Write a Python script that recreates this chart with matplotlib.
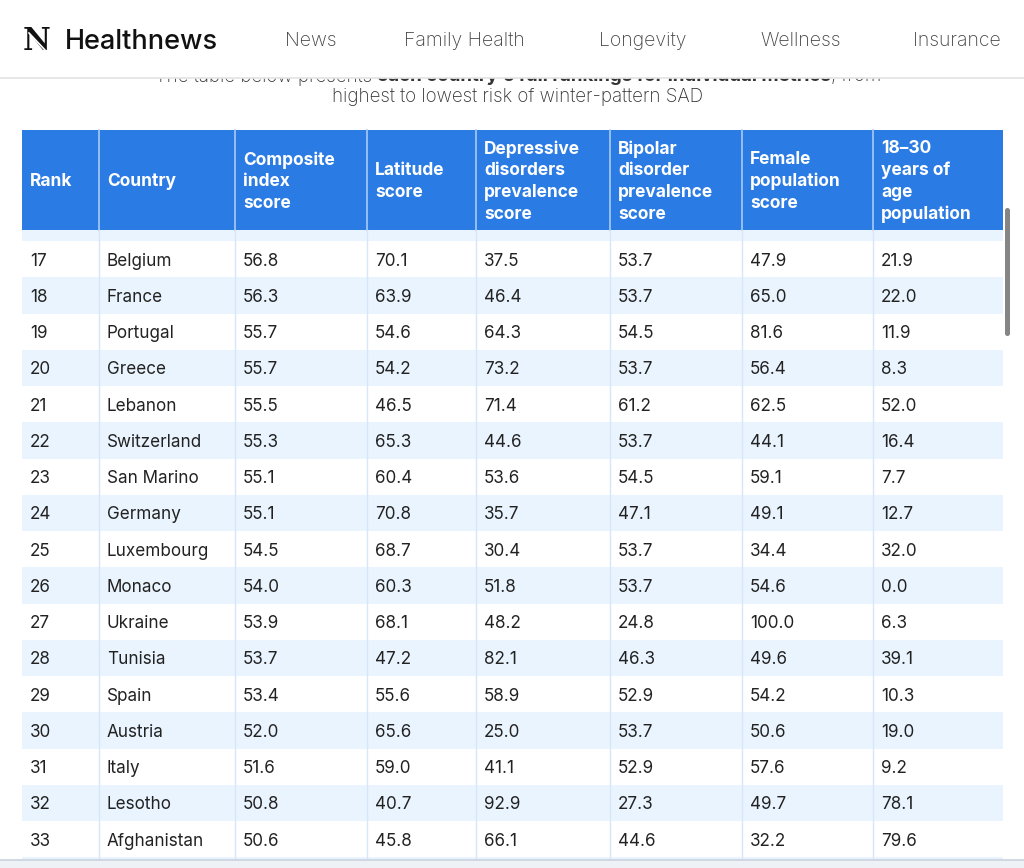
import matplotlib
matplotlib.use("Agg")
import matplotlib.pyplot as plt
from matplotlib.patches import Rectangle, FancyBboxPatch

# ---------------- data ----------------
headers = ["Rank", "Country", "Composite\nindex\nscore", "Latitude\nscore",
           "Depressive\ndisorders\nprevalence\nscore", "Bipolar\ndisorder\nprevalence\nscore",
           "Female\npopulation\nscore", "18\u201330\nyears of\nage\npopulation"]
ranks = [17, 18, 19, 20, 21, 22, 23, 24, 25, 26, 27, 28, 29, 30, 31, 32, 33]
countries = ["Belgium", "France", "Portugal", "Greece", "Lebanon", "Switzerland", "San Marino",
             "Germany", "Luxembourg", "Monaco", "Ukraine", "Tunisia", "Spain", "Austria",
             "Italy", "Lesotho", "Afghanistan"]
composite = [56.8, 56.3, 55.7, 55.7, 55.5, 55.3, 55.1, 55.1, 54.5, 54.0, 53.9, 53.7, 53.4, 52.0, 51.6, 50.8, 50.6]
latitude = [70.1, 63.9, 54.6, 54.2, 46.5, 65.3, 60.4, 70.8, 68.7, 60.3, 68.1, 47.2, 55.6, 65.6, 59.0, 40.7, 45.8]
depressive = [37.5, 46.4, 64.3, 73.2, 71.4, 44.6, 53.6, 35.7, 30.4, 51.8, 48.2, 82.1, 58.9, 25.0, 41.1, 92.9, 66.1]
bipolar = [53.7, 53.7, 54.5, 53.7, 61.2, 53.7, 54.5, 47.1, 53.7, 53.7, 24.8, 46.3, 52.9, 53.7, 52.9, 27.3, 44.6]
female = [47.9, 65.0, 81.6, 56.4, 62.5, 44.1, 59.1, 49.1, 34.4, 54.6, 100.0, 49.6, 54.2, 50.6, 57.6, 49.7, 32.2]
age_18_30 = [21.9, 22.0, 11.9, 8.3, 52.0, 16.4, 7.7, 12.7, 32.0, 0.0, 6.3, 39.1, 10.3, 19.0, 9.2, 78.1, 79.6]
nav_items = ["News", "Family Health", "Longevity", "Wellness", "Insurance"]
intro_parts = [("The table below presents ", "light"),
               ("each country\u2019s full rankings for individual metrics", "bold"),
               (", from", "light")]
intro_line2 = "highest to lowest risk of winter-pattern SAD"

# ---------------- layout ----------------
W, H = 1024, 868
fig = plt.figure(figsize=(W / 100, H / 100), dpi=100)
ax = fig.add_axes([0, 0, 1, 1])
ax.set_xlim(0, W)
ax.set_ylim(H, 0)
ax.axis("off")

FONT = ["Inter", "DejaVu Sans"]
BLUE = "#2B7BE4"
LIGHT = "#EAF4FE"
GRIDC = "#D6E7FA"
TXT = "#222222"

col_edges = [22, 99, 235, 367, 476, 610, 742, 873, 1003]
head_top, head_bot = 130, 230
strip_bot = 241
row_h = 36.25
clip_bottom = 860

# subtitle lines (first one partly hidden under header bar), pieces laid end to end
renderer = fig.canvas.get_renderer()
inv = ax.transData.inverted()
pieces = []
for t, wgt in intro_parts:
    pieces.append(ax.text(0, 76.5, t, ha="left", va="center", fontsize=13.5, family=FONT,
                          color="#333333", fontweight=wgt, zorder=1))
widths = []
for p in pieces:
    bb = p.get_window_extent(renderer=renderer)
    x0 = inv.transform((bb.x0, 0))[0]
    x1 = inv.transform((bb.x1, 0))[0]
    widths.append(x1 - x0)
total = sum(widths)
x = 518 - total / 2
for p, w in zip(pieces, widths):
    p.set_x(x)
    x += w
ax.text(518, 97, intro_line2, ha="center", va="center", fontsize=13.5, family=FONT,
        color="#333333", fontweight="light", zorder=1)

# header bar (white) with bottom border
ax.add_patch(Rectangle((0, 0), W, 78, facecolor="white", edgecolor="none", zorder=5))
ax.plot([0, W], [78, 78], color="#E3E3E3", lw=1.2, zorder=6)

# logo
ax.text(37, 41, "N", ha="center", va="center", fontsize=22, family="DejaVu Serif",
        fontweight="bold", color="#111111", zorder=7)
ax.plot([29, 45], [33, 50], color="white", lw=1.2, zorder=8)
ax.text(65, 42, "Healthnews", ha="left", va="center", fontsize=19.5, family=FONT,
        fontweight="medium", color="#111111", zorder=7)
nav_x = [285, 404, 599, 760, 913]
for xn, t in zip(nav_x, nav_items):
    ax.text(xn, 41.5, t, ha="left", va="center", fontsize=14, family=FONT,
            fontweight="light", color="#444444", zorder=7)

# table header
ax.add_patch(Rectangle((col_edges[0], head_top), col_edges[-1] - col_edges[0], head_bot - head_top,
                       facecolor=BLUE, edgecolor="none", zorder=2))
for xe in col_edges[1:-1]:
    ax.plot([xe, xe], [head_top, head_bot], color="#A9CBF5", lw=1.2, zorder=3)
for i, h in enumerate(headers):
    ax.text(col_edges[i] + 8, (head_top + head_bot) / 2 + 1.5, h, ha="left", va="center",
            fontsize=12.5, family=FONT, fontweight="bold", color="white",
            linespacing=1.36, zorder=4)

# light strip under header
ax.add_patch(Rectangle((col_edges[0], head_bot), col_edges[-1] - col_edges[0], strip_bot - head_bot,
                       facecolor=LIGHT, edgecolor="none", zorder=2))

# rows
columns = [ranks, countries, composite, latitude, depressive, bipolar, female, age_18_30]
n_rows = len(ranks)
for r in range(n_rows + 1):
    y0 = strip_bot + r * row_h
    if y0 >= clip_bottom:
        break
    h = min(row_h, clip_bottom - y0)
    face = "white" if r % 2 == 0 else LIGHT
    ax.add_patch(Rectangle((col_edges[0], y0), col_edges[-1] - col_edges[0], h,
                           facecolor=face, edgecolor="none", zorder=2))
    if r < n_rows:
        yc = y0 + row_h / 2 + 2
        for c, col in enumerate(columns):
            v = col[r]
            s = f"{v:.1f}" if isinstance(v, float) else str(v)
            ax.text(col_edges[c] + 8, yc, s, ha="left", va="center", fontsize=12.3,
                    family=FONT, color=TXT, zorder=4)

for xe in col_edges[1:-1]:
    ax.plot([xe, xe], [head_bot, clip_bottom], color=GRIDC, lw=1.0, zorder=3)

# bottom bar
ax.add_patch(Rectangle((0, clip_bottom), W, H - clip_bottom, facecolor="#EEF2F7",
                       edgecolor="none", zorder=5))
ax.plot([0, W], [clip_bottom, clip_bottom], color="#C9D2DD", lw=1.2, zorder=6)

# scrollbar
ax.add_patch(FancyBboxPatch((1005, 208), 5, 128, boxstyle="round,pad=0,rounding_size=2.5",
                            facecolor="#858585", edgecolor="none", zorder=6))

fig.savefig("out.png", dpi=100, facecolor="white")
